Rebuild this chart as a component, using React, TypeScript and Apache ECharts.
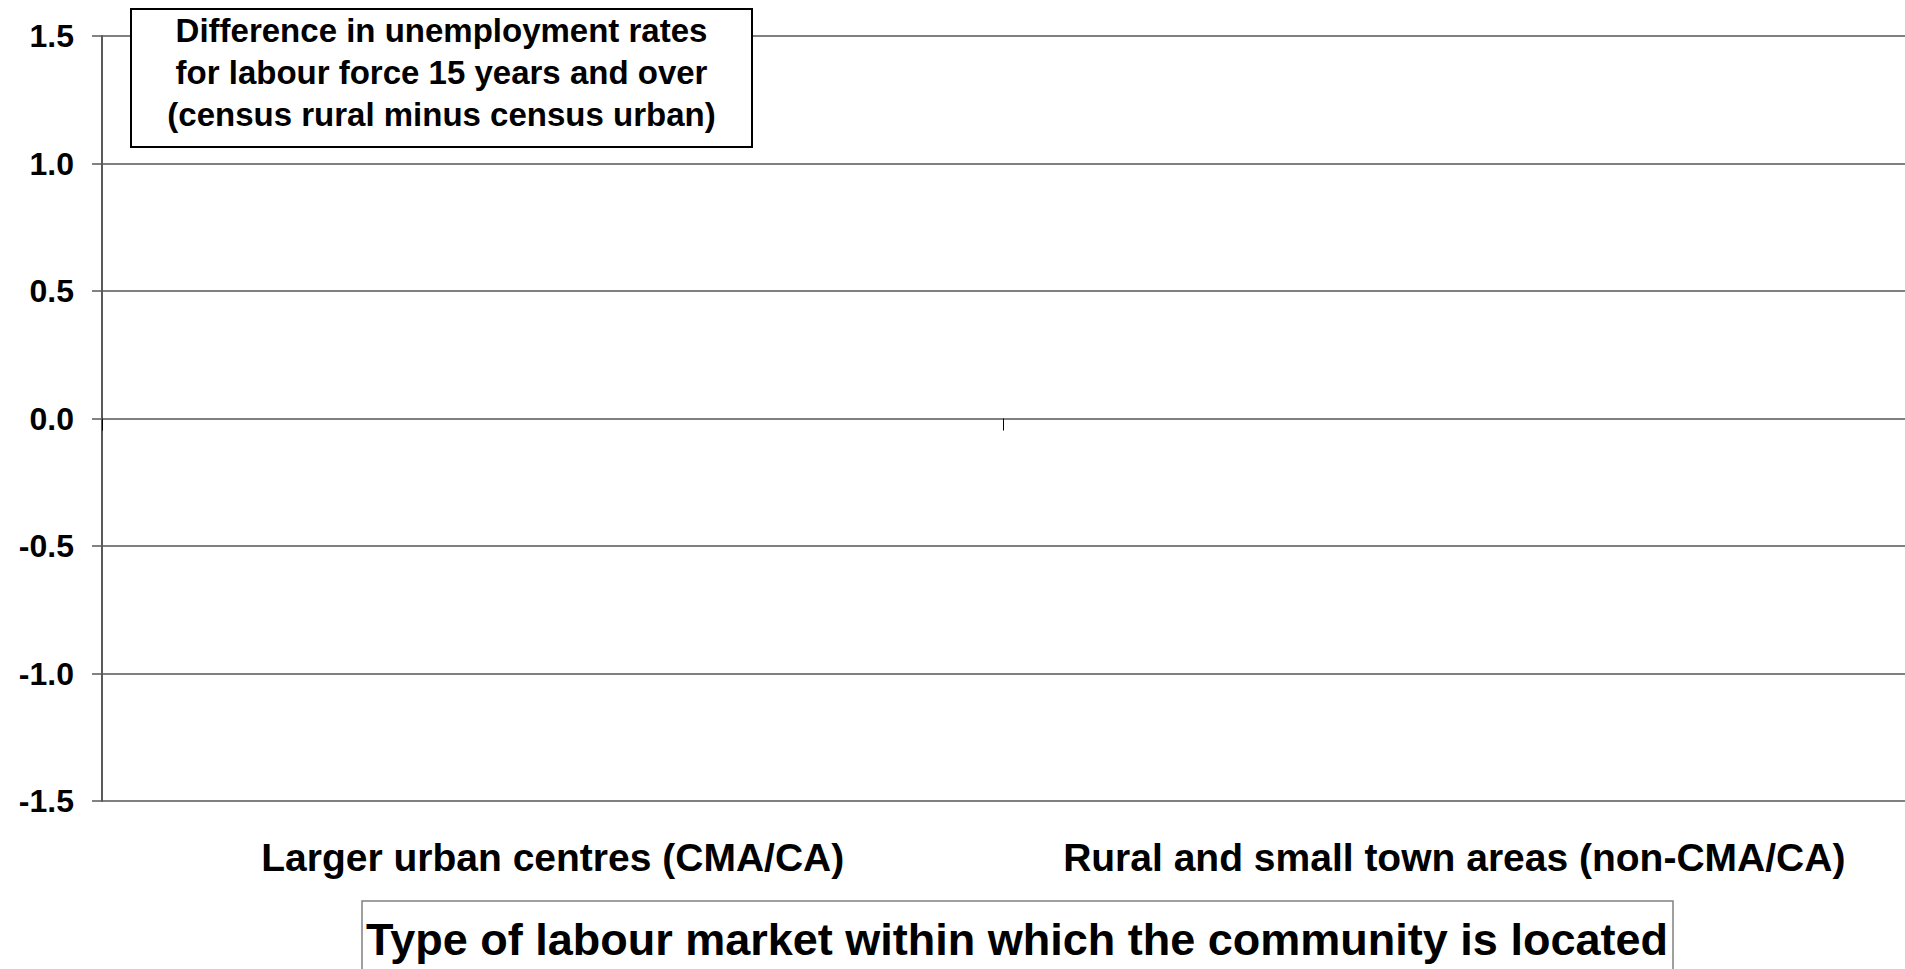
import React, { useEffect, useRef } from "react";
import * as echarts from "echarts";

// ---- data ----
const categories: string[] = [
  "Larger urban centres (CMA/CA)",
  "Rural and small town areas (non-CMA/CA)",
];
// No bars are visible in the reference chart.
const differenceValues: (number | null)[] = [null, null];
const yMin = -1.5;
const yMax = 1.5;
const yStep = 0.5;
const titleLines: string[] = [
  "Difference in unemployment rates",
  "for labour force 15 years and over",
  "(census rural minus census urban)",
];
const xAxisTitle = "Type of labour market within which the community is located";

const FONT = "'Liberation Sans', Arial, sans-serif";

export default function App() {
  const ref = useRef<HTMLDivElement>(null);

  useEffect(() => {
    if (!ref.current) return;
    const chart = echarts.init(ref.current, undefined, { renderer: "svg" });
    chart.setOption({
      animation: false,
      backgroundColor: "#ffffff",
      textStyle: { fontFamily: FONT },
      grid: { left: 102, right: 0, top: 36, bottom: 168, containLabel: false },
      xAxis: [
        {
          type: "category",
          data: categories,
          position: "bottom",
          axisLine: { show: true, onZero: true, lineStyle: { color: "#808080", width: 2 } },
          axisTick: { show: true, length: 12, lineStyle: { color: "#000000", width: 1 } },
          axisLabel: { show: false },
          splitLine: { show: false },
        },
        {
          type: "category",
          data: categories,
          position: "bottom",
          axisLine: { show: false, onZero: false },
          axisTick: { show: false },
          axisLabel: {
            show: true,
            interval: 0,
            margin: 37,
            color: "#000000",
            fontSize: 39,
            fontWeight: "bold",
            fontFamily: FONT,
          },
          splitLine: { show: false },
        },
      ],
      yAxis: {
        type: "value",
        min: yMin,
        max: yMax,
        interval: yStep,
        axisLine: { show: true, lineStyle: { color: "#595959", width: 2 } },
        axisTick: { show: true, length: 10, lineStyle: { color: "#595959", width: 1.5 } },
        axisLabel: {
          margin: 28,
          color: "#000000",
          fontSize: 32,
          fontWeight: "bold",
          fontFamily: FONT,
          formatter: (v: number) => v.toFixed(1),
        },
        splitLine: { show: true, lineStyle: { color: "#808080", width: 2 } },
      },
      series: [
        {
          type: "bar",
          xAxisIndex: 0,
          data: differenceValues,
          itemStyle: { color: "#4f81bd" },
        },
      ],
      graphic: [
        {
          type: "group",
          z: 100,
          children: [
            {
              type: "rect",
              z: 100,
              shape: { x: 131, y: 9, width: 621, height: 138 },
              style: { fill: "#ffffff", stroke: "#000000", lineWidth: 2 },
            },
            {
              type: "text",
              z: 101,
              x: 441.5,
              y: 72,
              style: {
                text: titleLines.join("\n"),
                align: "center",
                verticalAlign: "middle",
                fontSize: 33,
                fontWeight: "bold",
                fontFamily: FONT,
                lineHeight: 42,
                fill: "#000000",
              },
            },
          ],
        },
        {
          type: "group",
          z: 100,
          children: [
            {
              type: "rect",
              z: 100,
              shape: { x: 362, y: 901, width: 1311, height: 90 },
              style: { fill: "#ffffff", stroke: "#808080", lineWidth: 1.5 },
            },
            {
              type: "text",
              z: 101,
              x: 1017,
              y: 939,
              style: {
                text: xAxisTitle,
                align: "center",
                verticalAlign: "middle",
                fontSize: 45,
                fontWeight: "bold",
                fontFamily: FONT,
                fill: "#000000",
              },
            },
          ],
        },
      ],
    });
    return () => chart.dispose();
  }, []);

  return (
    <div
      ref={ref}
      style={{ position: "fixed", left: 0, top: 0, width: 1905, height: 969 }}
    />
  );
}
